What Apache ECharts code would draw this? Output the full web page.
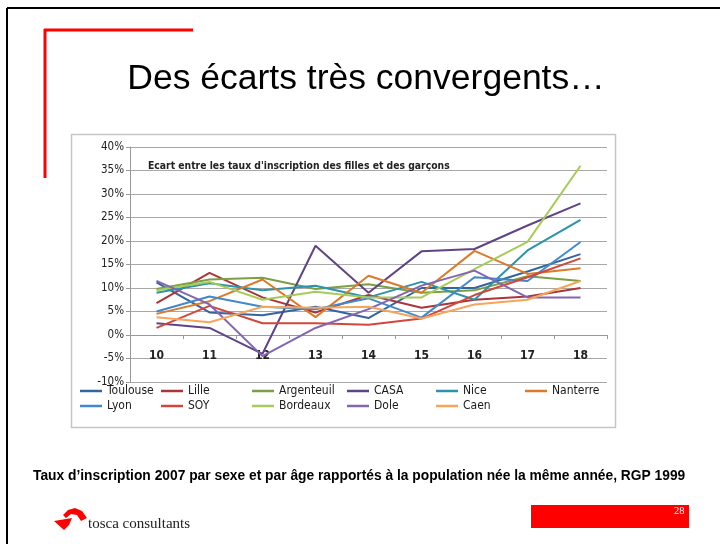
<!DOCTYPE html>
<html lang="fr">
<head>
  <meta charset="UTF-8" />
  <script src="https://cdn.jsdelivr.net/npm/echarts@6/dist/echarts.min.js"></script>
  <title>Des écarts très convergents…</title>
  <style>html, body { margin: 0; padding: 0; background: #fff; }</style>
</head>
<body>
  <div id="main" style="width: 720px; height: 544px;"></div>
  <script type="text/javascript">
    // ages (axe des x)
    var ages = ["10", "11", "12", "13", "14", "15", "16", "17", "18"];
    // écart filles - garçons, en %
    var toulouse   = [11.2, 4.8, 4.2, 6.0, 3.6, 10.0, 10.0, 13.5, 17.2];
    var lille      = [6.8, 13.2, 8.0, 4.8, 8.5, 5.8, 7.5, 8.2, 10.0];
    var argenteuil = [9.8, 11.8, 12.2, 9.8, 10.8, 9.0, 9.5, 12.5, 11.5];
    var casa       = [2.5, 1.5, -4.0, 19.0, 9.0, 17.8, 18.3, 23.3, 28.0];
    var nice       = [9.0, 11.0, 9.5, 10.5, 8.0, 11.3, 7.5, 18.0, 24.5];
    var nanterre   = [4.5, 7.2, 11.8, 3.8, 12.6, 9.0, 17.9, 13.0, 14.2];
    var lyon       = [5.0, 8.2, 6.0, 5.5, 7.8, 3.7, 12.3, 11.5, 19.8];
    var soy        = [1.5, 6.2, 2.5, 2.5, 2.2, 3.5, 8.5, 12.3, 16.3];
    var bordeaux   = [9.5, 11.3, 7.5, 9.2, 8.0, 8.0, 14.0, 19.8, 36.0];
    var dole       = [11.5, 6.5, -4.5, 1.5, 5.5, 10.5, 13.7, 8.0, 8.0];
    var caen       = [3.8, 2.7, 6.0, 5.8, 6.0, 3.5, 6.5, 7.5, 11.5];

    var names = ["Toulouse", "Lille", "Argenteuil", "CASA", "Nice", "Nanterre",
                 "Lyon", "SOY", "Bordeaux", "Dole", "Caen"];
    var values = [toulouse, lille, argenteuil, casa, nice, nanterre,
                  lyon, soy, bordeaux, dole, caen];
    var colors = ["#33659f", "#a8363a", "#7c9e44", "#5e4487", "#2b93ab", "#dc7a2a",
                  "#4189cc", "#d2473c", "#a7cb5a", "#8465b2", "#f6a55a"];

    var font = "'Liberation Sans Narrow', 'DejaVu Sans Condensed', sans-serif";

    var series = names.map(function (n, i) {
      return {
        name: n,
        type: "line",
        data: values[i],
        showSymbol: false,
        symbol: "none",
        lineStyle: { width: 2, color: colors[i] },
        itemStyle: { color: colors[i] }
      };
    });

    // une légende par entrée pour garder les colonnes alignées
    var colLeft = [80, 161, 252, 347, 436, 525];
    var legends = names.map(function (n, i) {
      return {
        data: [n],
        left: colLeft[i % 6],
        top: i < 6 ? 385 : 400,
        padding: 0,
        icon: "rect",
        itemWidth: 22,
        itemHeight: 2.5,
        textStyle: { fontSize: 12, color: "#1a1a1a", fontFamily: font },
        selectedMode: false
      };
    });

    var myChart = echarts.init(document.getElementById("main"));
    myChart.setOption({
      backgroundColor: "#fff",
      animation: false,
      title: [
        {
          text: "Des écarts très convergents…",
          left: 366, top: 61, textAlign: "center", padding: 0,
          textStyle: { fontSize: 35.5, fontWeight: "normal", color: "#000",
                       fontFamily: "'Liberation Sans', Arial, sans-serif" }
        },
        {
          text: "Ecart entre les taux d'inscription des filles et des garçons",
          left: 148, top: 161, padding: 0,
          textStyle: { fontSize: 10.3, fontWeight: "bold", color: "#222", fontFamily: font }
        }
      ],
      legend: legends,
      grid: { left: 130, top: 147, width: 477, height: 235 },
      xAxis: {
        type: "category",
        data: ages,
        boundaryGap: true,
        axisLine: { onZero: true, lineStyle: { color: "#999" } },
        axisTick: { show: true, length: 4, lineStyle: { color: "#999" } },
        axisLabel: { margin: -32, fontSize: 12, fontWeight: "bold", color: "#222", fontFamily: font }
      },
      yAxis: {
        type: "value",
        min: -10, max: 40, interval: 5,
        axisLine: { show: true, lineStyle: { color: "#999" } },
        axisTick: { show: true, length: 4, lineStyle: { color: "#999" } },
        splitLine: { lineStyle: { color: "#a8a8a8" } },
        axisLabel: { formatter: "{value}%", fontSize: 11.5, color: "#222", margin: 6, fontFamily: font }
      },
      graphic: [
        // cadre de la diapositive
        { type: "line", shape: { x1: 7, y1: 8, x2: 720, y2: 8 }, style: { stroke: "#000", lineWidth: 2 } },
        { type: "line", shape: { x1: 7, y1: 8, x2: 7, y2: 544 }, style: { stroke: "#000", lineWidth: 2 } },
        // équerre rouge
        { type: "line", shape: { x1: 44, y1: 30, x2: 193, y2: 30 }, style: { stroke: "#ff0000", lineWidth: 3 } },
        { type: "line", shape: { x1: 45, y1: 29, x2: 45, y2: 178 }, style: { stroke: "#ff0000", lineWidth: 3 } },
        // cadre du graphique
        { type: "rect", shape: { x: 71.5, y: 134.5, width: 544, height: 293 },
          style: { fill: "none", stroke: "#c6c6c6", lineWidth: 1.5 }, z: -1 },
        // source
        { type: "text", x: 33, y: 469,
          style: { text: "Taux d’inscription 2007 par sexe et par âge rapportés à la population née la même année, RGP 1999",
                   font: "bold 13.8px 'Liberation Sans', Arial, sans-serif", fill: "#000" } },
        // logo
        { type: "polygon", shape: { points: [[63, 515], [68, 510], [75, 508], [82, 511], [87, 518], [81, 521], [77, 515], [71, 514], [66, 518]] },
          style: { fill: "#ff0000" } },
        { type: "polygon", shape: { points: [[54, 521], [72, 518], [69, 525], [64, 530]] },
          style: { fill: "#ff0000" } },
        { type: "text", x: 88, y: 517,
          style: { text: "tosca consultants", font: "15px 'Liberation Serif', 'DejaVu Serif', serif", fill: "#222" } },
        // numéro de page
        { type: "rect", shape: { x: 531, y: 505, width: 158, height: 23 }, style: { fill: "#ff0000" } },
        { type: "text", x: 674, y: 506,
          style: { text: "28", font: "10.5px 'Liberation Serif', serif", fill: "#fff" } }
      ],
      series: series
    });
  </script>
</body>
</html>
